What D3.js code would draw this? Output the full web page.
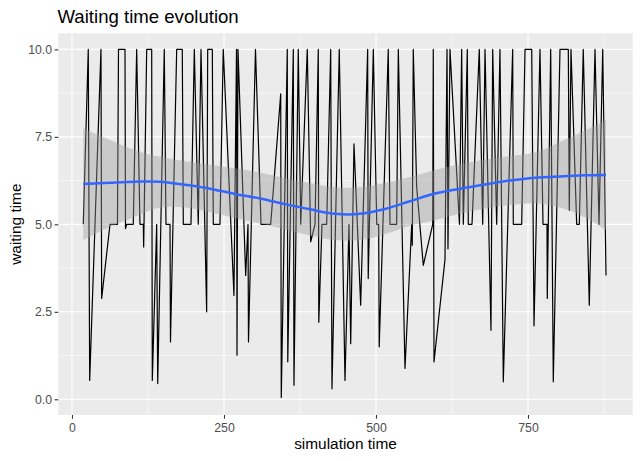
<!DOCTYPE html>
<html>
<head>
<meta charset="utf-8">
<script src="https://cdn.jsdelivr.net/npm/d3@7"></script>
<style>
  html, body { margin: 0; padding: 0; background: #ffffff; }
  svg { display: block; font-family: "Liberation Sans", Arial, Helvetica, sans-serif; }
</style>
</head>
<body>
<svg id="chart" width="640" height="461"></svg>
<script>
// ---- data ----
const simTime = [18.6, 26.8, 29.1, 47.7, 48.8, 62.5, 74.8, 76.5, 87.2, 88.0, 90.0, 100.8, 106.4, 111.8, 117.3, 117.9, 122.9, 131.1, 132.1, 139.3, 141.0,
  151.8, 154.6, 161.2, 162.0, 172.2, 181.4, 183.1, 195.7, 201.2, 207.7, 212.2, 221.5, 223.2, 230.8, 232.4, 243.4, 248.8, 266.4, 270.6, 271.4, 273.0,
  285.7, 289.5, 290.3, 301.8, 310.9, 326.8, 343.3, 344.2, 354.1, 354.9, 364.0, 365.1, 372.2, 376.2, 387.0, 392.6, 399.7, 405.1, 405.9, 411.2, 418.9,
  425.5, 427.6, 439.6, 449.0, 455.6, 458.4, 463.8, 474.8, 486.3, 487.2, 495.6, 501.2, 504.4, 505.3, 520.2, 523.0, 534.0, 536.7, 547.7, 558.7, 559.7,
  561.3, 566.9, 577.8, 593.3, 594.2, 595.4, 613.5, 616.8, 618.4, 621.7, 637.3, 640.9, 643.6, 650.2, 651.8, 657.9, 669.9, 675.5, 679.3, 689.1, 691.9,
  698.5, 703.9, 709.4, 724.8, 725.8, 739.6, 745.1, 756.1, 759.9, 769.7, 774.7, 781.3, 781.7, 787.3, 791.6, 802.6, 816.3, 817.9, 820.7, 830.1, 834.4,
  840.9, 850.8, 860.2, 866.8, 872.9, 878.3];
const waitTime = [5.0, 10, 0.54, 10, 2.88, 5, 5, 10, 10, 4.88, 5, 5, 10, 5, 5, 4.35, 10, 10, 0.54, 5, 0.45,
  10, 5, 5, 1.64, 10, 10, 5, 5, 10, 5, 10, 2.5, 10, 10, 5, 5, 10, 2.97, 10, 1.26, 10,
  3.54, 5, 1.64, 10, 5, 5, 8.73, 0.05, 10, 1.07, 10, 0.4, 10, 5, 10, 4.5, 5, 10, 2.2, 5, 5,
  10, 0.3, 10, 0.54, 5, 1.59, 7.3, 2.69, 10, 3.45, 10, 5, 5, 1.5, 10, 5, 5, 10, 0.88, 5, 4.4,
  10, 6.07, 3.83, 5, 10, 1.07, 4.0, 10, 4.3, 10, 5, 10, 5, 10, 5, 5, 10, 5, 10, 1.97, 10,
  5, 10, 0.5, 10, 5, 5, 10, 10, 2.1, 10, 5, 5, 2.88, 10, 0.5, 10, 10, 5.4, 10, 5, 5,
  10, 2.69, 10, 5, 10, 3.54];

// loess smoother and its confidence band
const smoothX   = [18.6, 62.5, 103.6, 144.7, 185.9, 227.0, 268.1, 309.2, 350.3, 391.4, 432.6, 473.7, 514.8, 555.9, 597.0, 638.2, 679.3, 720.4, 761.5, 802.6, 843.8, 878.3];
const smoothFit = [6.15, 6.19, 6.22, 6.22, 6.13, 6.02, 5.87, 5.74, 5.58, 5.43, 5.30, 5.30, 5.44, 5.66, 5.88, 6.02, 6.14, 6.25, 6.33, 6.37, 6.40, 6.41];
const smoothLo  = [4.55, 4.93, 5.22, 5.48, 5.48, 5.35, 5.18, 5.03, 4.85, 4.68, 4.55, 4.55, 4.72, 4.96, 5.12, 5.30, 5.45, 5.55, 5.60, 5.48, 5.20, 4.84];
const smoothHi  = [7.74, 7.41, 7.12, 6.93, 6.80, 6.70, 6.60, 6.48, 6.32, 6.18, 6.06, 6.06, 6.18, 6.35, 6.55, 6.72, 6.85, 6.95, 7.05, 7.35, 7.68, 7.98];

const xTicks = [0, 250, 500, 750];
const xMinor = [125, 375, 625, 875];
const yTicks = [0, 2.5, 5, 7.5, 10];
const yTickLabels = ["0.0", "2.5", "5.0", "7.5", "10.0"];
const yMinor = [1.25, 3.75, 6.25, 8.75];

const chartTitle = "Waiting time evolution";
const xTitle = "simulation time";
const yTitle = "waiting time";

// ---- layout ----
const panel = { left: 58.3, right: 632.7, top: 33.3, bottom: 415 };
const svg = d3.select("#chart");

const x = d3.scaleLinear().domain([-22.5, 922.2]).range([panel.left, panel.right]);
const y = d3.scaleLinear().domain([-0.449, 10.46]).range([panel.bottom, panel.top]);

// panel background
svg.append("rect")
  .attr("x", panel.left).attr("y", panel.top)
  .attr("width", panel.right - panel.left).attr("height", panel.bottom - panel.top)
  .attr("fill", "#EBEBEB");

const grid = svg.append("g");
// minor grid
grid.selectAll("line.xmin").data(xMinor).join("line")
  .attr("x1", d => x(d)).attr("x2", d => x(d))
  .attr("y1", panel.top).attr("y2", panel.bottom)
  .attr("stroke", "#fff").attr("stroke-width", 0.55);
grid.selectAll("line.ymin").data(yMinor).join("line")
  .attr("y1", d => y(d)).attr("y2", d => y(d))
  .attr("x1", panel.left).attr("x2", panel.right)
  .attr("stroke", "#fff").attr("stroke-width", 0.55);
// major grid
grid.selectAll("line.xmaj").data(xTicks).join("line")
  .attr("x1", d => x(d)).attr("x2", d => x(d))
  .attr("y1", panel.top).attr("y2", panel.bottom)
  .attr("stroke", "#fff").attr("stroke-width", 1.1);
grid.selectAll("line.ymaj").data(yTicks).join("line")
  .attr("y1", d => y(d)).attr("y2", d => y(d))
  .attr("x1", panel.left).attr("x2", panel.right)
  .attr("stroke", "#fff").attr("stroke-width", 1.1);

// data line
const pts = simTime.map((t, i) => [t, waitTime[i]]);
svg.append("path")
  .datum(pts)
  .attr("fill", "none")
  .attr("stroke", "#000")
  .attr("stroke-width", 1.2)
  .attr("stroke-linejoin", "round")
  .attr("d", d3.line().x(d => x(d[0])).y(d => y(d[1])));

// smoother band
const band = smoothX.map((t, i) => ({ t, lo: smoothLo[i], hi: smoothHi[i], fit: smoothFit[i] }));
svg.append("path")
  .datum(band)
  .attr("fill", "#999999")
  .attr("fill-opacity", 0.4)
  .attr("d", d3.area().curve(d3.curveCatmullRom)
    .x(d => x(d.t)).y0(d => y(d.lo)).y1(d => y(d.hi)));
svg.append("path")
  .datum(band)
  .attr("fill", "none")
  .attr("stroke", "#3366FF")
  .attr("stroke-width", 2.5)
  .attr("d", d3.line().curve(d3.curveCatmullRom).x(d => x(d.t)).y(d => y(d.fit)));

// axes
const xAxis = d3.axisBottom(x).tickValues(xTicks).tickSize(3.7).tickPadding(4.5).tickFormat(d3.format("d"));
const gx = svg.append("g").attr("transform", `translate(0,${panel.bottom})`).call(xAxis);
gx.select(".domain").remove();
gx.selectAll(".tick line").attr("stroke", "#333333").attr("stroke-width", 1.1);
gx.selectAll(".tick text").attr("fill", "#4D4D4D").attr("font-size", "12.3px")
  .attr("font-family", "'Liberation Sans', Arial, Helvetica, sans-serif");

const yAxis = d3.axisLeft(y).tickValues(yTicks).tickSize(3.7).tickPadding(2.5)
  .tickFormat((d, i) => yTickLabels[i]);
const gy = svg.append("g").attr("transform", `translate(${panel.left},0)`).call(yAxis);
gy.select(".domain").remove();
gy.selectAll(".tick line").attr("stroke", "#333333").attr("stroke-width", 1.1);
gy.selectAll(".tick text").attr("fill", "#4D4D4D").attr("font-size", "12.3px")
  .attr("font-family", "'Liberation Sans', Arial, Helvetica, sans-serif");

// titles
svg.append("text")
  .attr("x", 57.5).attr("y", 22.5)
  .attr("font-size", "18.6px").attr("fill", "#000")
  .text(chartTitle);
svg.append("text")
  .attr("x", (panel.left + panel.right) / 2).attr("y", 449)
  .attr("text-anchor", "middle").attr("font-size", "15.4px").attr("fill", "#000")
  .text(xTitle);
svg.append("text")
  .attr("transform", `translate(20.5,${(panel.top + panel.bottom) / 2}) rotate(-90)`)
  .attr("text-anchor", "middle").attr("font-size", "15.4px").attr("fill", "#000")
  .text(yTitle);
</script>
</body>
</html>
